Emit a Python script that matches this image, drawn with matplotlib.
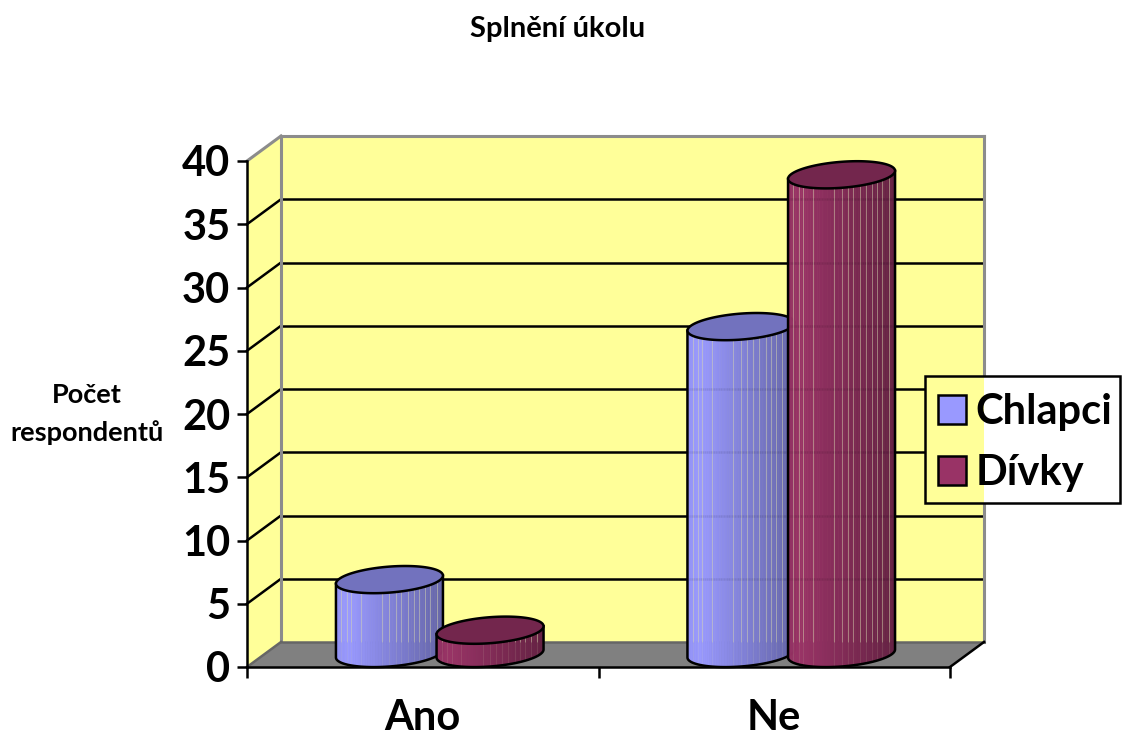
import numpy as np
import matplotlib
matplotlib.use("Agg")
import matplotlib.pyplot as plt
from matplotlib.collections import PolyCollection
from matplotlib.patches import Polygon, Rectangle, Patch
from matplotlib.transforms import Affine2D

# ---- data ----
categories = ["Ano", "Ne"]
chlapci = [6, 26]
divky = [2, 38]
series_names = ["Chlapci", "Dívky"]
yticks = [0, 5, 10, 15, 20, 25, 30, 35, 40]

# ---- style ----
W, H = 1122, 740
FONT = "Lato"
YELLOW = "#FFFF99"
FLOOR = "#808080"
WALLEDGE = "#8C8C8C"
BAR_SIDE = ["#9999FF", "#993366"]
BAR_TOP = ["#7272BE", "#73264D"]
DEPTH_X, DEPTH_Y = 34, 25
RX, TILT, RY = 53.5, 4.0, 13.0
LW = 1.8
highlights = [.05, .10, .14, .23, .43, .50, .56, .61, .67, .73, .78, .83, .88, .94]

plt.rcParams["font.family"] = [FONT, "DejaVu Sans"]
plt.rcParams["font.weight"] = "bold"

fig = plt.figure(figsize=(W / 100, H / 100), dpi=100, facecolor="white")
ax = fig.add_axes([247 / W, (H - 667) / H, 703 / W, 506 / H])
ax.set_xlim(0, len(categories))
ax.set_ylim(0, 40)
ax.set_facecolor("none")
px = Affine2D().scale(1, -1).translate(0, H)


def to_px(x, y):
    d = ax.transData.transform((x, y))
    return d[0], H - d[1]


x0, y0 = to_px(0, 0)
x1, y40 = to_px(len(categories), 40)
bx0, bx1 = x0 + DEPTH_X, x1 + DEPTH_X
by0, by40 = y0 - DEPTH_Y, y40 - DEPTH_Y


def add_poly(pts, fc, ec="none", lw=0, z=1):
    ax.add_patch(Polygon(pts, closed=True, fc=fc, ec=ec, lw=lw, transform=px, clip_on=False, zorder=z, joinstyle="round"))


def add_line(xs, ys, color="black", lw=LW, z=1.5, alpha=None):
    ax.plot(xs, ys, color=color, lw=lw, transform=px, clip_on=False, zorder=z, alpha=alpha, solid_capstyle="projecting" if alpha is None else "butt")


# walls and floor
add_poly([(x0, y0), (bx0, by0), (bx0, by40), (x0, y40)], YELLOW)
add_poly([(bx0, by0), (bx1, by0), (bx1, by40), (bx0, by40)], YELLOW)
add_poly([(x0, y0), (x1, y0), (bx1, by0), (bx0, by0)], FLOOR)

# gridlines
grid_ys = []
for v in yticks[1:]:
    _, yy = to_px(0, v)
    if v < 40:
        add_line([x0, bx0], [yy, yy - DEPTH_Y], "black", z=1.3)
        add_line([bx0, bx1], [yy - DEPTH_Y, yy - DEPTH_Y], "black", z=1.3)
        grid_ys.append(yy - DEPTH_Y)

add_line([bx0, bx0], [by0, by40], WALLEDGE, lw=2.2, z=1.35)
add_line([bx1, bx1], [by0, by40], WALLEDGE, lw=2.2, z=1.35)
add_line([bx0, bx1], [by40, by40], WALLEDGE, lw=2.2, z=1.35)
add_line([x0, bx0], [y40, by40], WALLEDGE, lw=2.2, z=1.35)
add_line([bx0, bx1], [by0, by0], "#666666", z=1.35)
add_line([x0, bx0], [y0, by0], "#666666", z=1.35)
add_line([x1, bx1], [y0, by0], "black", z=1.5)


def ell(cx, cy, t):
    return cx + np.cos(t) * RX, cy - np.cos(t) * TILT + np.sin(t) * RY


def mix(base, k):
    c = np.array(matplotlib.colors.to_rgb(base))
    return tuple(np.clip(c * k, 0, 1))


def draw_bar(xcat, offset, value, side, top, z):
    cx = to_px(xcat, 0)[0] + DEPTH_X / 2 + offset
    base_cy = y0 - 13.5
    top_cy = to_px(xcat, value)[1] - 11.5
    ts = np.linspace(np.pi, 0, 61)
    bx, by = ell(cx, base_cy, ts)
    tx, ty = ell(cx, top_cy, ts)
    polys, cols = [], []
    for i in range(len(ts) - 1):
        polys.append([(bx[i], by[i]), (bx[i + 1], by[i + 1]), (tx[i + 1], ty[i + 1]), (tx[i], ty[i])])
        f = (bx[i] + bx[i + 1]) / 2
        f = (f - (cx - RX)) / (2 * RX)
        cols.append(mix(side, np.interp(f, [0, .12, 1], [.96, 1, .66])))
    pc = PolyCollection(polys, facecolors=cols, edgecolors=cols, linewidths=.5,
                        transform=px, clip_on=False, zorder=z)
    ax.add_collection(pc)
    # faint vertical streaks
    for h in highlights:
        hx = cx - RX + 2 * RX * h
        t = np.arccos(np.clip((hx - cx) / RX, -1, 1))
        _, ybot = ell(cx, base_cy, t)
        _, ytop = ell(cx, top_cy, t)
        ysplit = max(min(by0, ybot), ytop)
        add_line([hx, hx], [ytop, ysplit], "#D8D8B0", lw=.7, z=z + .01, alpha=.5)
        add_line([hx, hx], [ysplit, ybot], "#D8D8B0", lw=.7, z=z + .01, alpha=.12)
    # grid shows faintly through
    for gy in grid_ys:
        if gy > top_cy + 13 and gy < base_cy:
            add_line([cx - RX, cx + RX], [gy, gy], "black", lw=LW, z=z + .02, alpha=.06)
    # outline
    ox = np.r_[tx[0], bx, tx[-1]]
    oy = np.r_[ty[0], by, ty[-1]]
    ax.plot(ox, oy, color="black", lw=LW, transform=px, clip_on=False, zorder=z + .03, solid_joinstyle="round")
    t2 = np.linspace(0, 2 * np.pi, 121)
    ex, ey = ell(cx, top_cy, t2)
    add_poly(np.c_[ex, ey], top, "black", LW, z + .04)


OFFSET = 50.3
for i in range(len(categories)):
    draw_bar(i + .5, -OFFSET, chlapci[i], BAR_SIDE[0], BAR_TOP[0], 3 + i)
    draw_bar(i + .5, OFFSET, divky[i], BAR_SIDE[1], BAR_TOP[1], 3.5 + i)

# axes
for s in ("top", "right"):
    ax.spines[s].set_visible(False)
for s in ("left", "bottom"):
    ax.spines[s].set_linewidth(LW)
    ax.spines[s].set_zorder(2.5)
ax.set_yticks(yticks)
ax.set_yticklabels([str(v) for v in yticks], fontsize=30, fontweight="bold", fontfamily=FONT)
ax.tick_params(axis="y", direction="out", length=7, width=LW, pad=5)
ax.set_xticks(range(len(categories) + 1))
ax.set_xticklabels([])
ax.set_xticks([i + .5 for i in range(len(categories))], minor=True)
ax.set_xticklabels(categories, minor=True, fontsize=30, fontweight="bold", fontfamily=FONT)
ax.tick_params(axis="x", which="major", direction="out", length=8, width=LW)
ax.tick_params(axis="x", which="minor", length=0, pad=23)

ax.set_title("Splnění úkolu", fontsize=21, fontweight="bold", fontfamily=FONT,
             x=(558 - 247) / 703, y=(667 - 37) / 506, va="center", ha="center")
ax.set_ylabel("Počet\nrespondentů", rotation=0, fontsize=19.5, fontweight="bold", fontfamily=FONT,
              ha="center", va="center", linespacing=1.65)
ax.yaxis.set_label_coords((87 - 247) / 703, (667 - 414) / 506)

# legend
LX0, LX1, LY0, LY1 = 925, 1120, 376, 503
ax.add_patch(Rectangle((LX0, LY0), LX1 - LX0, LY1 - LY0, fc="white", ec="none", transform=px, clip_on=False, zorder=8))
ax.add_patch(Rectangle((LX0, LY0), bx1 - LX0, LY1 - LY0, fc=YELLOW, ec="none", transform=px, clip_on=False, zorder=8.1))
ax.add_patch(Rectangle((LX0, LY0), LX1 - LX0, LY1 - LY0, fc="none", ec="black", lw=LW, transform=px, clip_on=False, zorder=8.2))
handles = [Patch(fc=c, ec="black", lw=LW) for c in BAR_SIDE]
leg = ax.legend(handles, series_names, loc="upper left", frameon=False,
                prop={"family": FONT, "weight": "bold", "size": 30},
                bbox_to_anchor=(938, H - 393), bbox_transform=Affine2D(),
                borderaxespad=0, borderpad=0, handlelength=.68, handleheight=.68, handletextpad=.22, labelspacing=.55)
leg.set_zorder(9)

fig.savefig("out.png", dpi=100)
